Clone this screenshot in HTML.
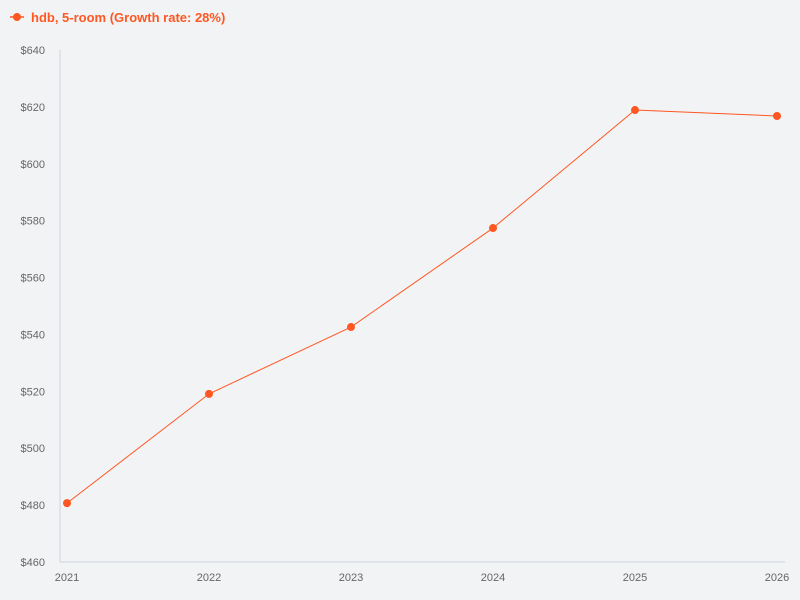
<!DOCTYPE html>
<html><head><meta charset="utf-8"><style>
html,body{margin:0;padding:0;background:#f2f3f5;}
svg{display:block;font-family:"Liberation Sans",sans-serif;}
</style></head><body>
<svg id="chart" width="800" height="600">
<rect width="800" height="600" fill="#f2f3f5"/>
<g>
<line x1="10" y1="17" x2="24" y2="17" stroke="#ff5722" stroke-width="1.5"/>
<circle cx="17" cy="17" r="4" fill="#ff5722"/>
<text x="31" y="22" fill="#ff5722" font-size="13" font-weight="bold">hdb, 5-room (Growth rate: 28%)</text>
</g>
<g id="yaxis"></g>
<g id="xaxis"></g>
<g id="series"></g>
</svg>
<script>
const categories = ["2021","2022","2023","2024","2025","2026"];
const values = [480.7, 519.1, 542.6, 577.4, 618.9, 616.8];
const yTicks = [460,480,500,520,540,560,580,600,620,640];
const ns="http://www.w3.org/2000/svg";
const x0=67,x1=777,yTop=50,yBot=562,vMin=460,vMax=640;
const xs=i=>x0+(x1-x0)*i/(categories.length-1);
const ys=v=>yBot-(v-vMin)/(vMax-vMin)*(yBot-yTop);
function mk(t,a,p){const e=document.createElementNS(ns,t);for(const k in a)e.setAttribute(k,a[k]);p.appendChild(e);return e;}
const ya=document.getElementById('yaxis'),xa=document.getElementById('xaxis'),se=document.getElementById('series');
const yl=mk('line',{x1:60,y1:yTop,x2:60,y2:yBot,stroke:'#ccd6e0'},ya);


const xl=mk('line',{x1:60,y1:yBot,x2:785,y2:yBot,stroke:'#ccd6e0'},xa);


yTicks.forEach(v=>{
 const t=mk('text',{x:45,y:ys(v)+4,'text-anchor':'end','font-size':11,fill:'#666'},ya);
 t.textContent='$'+v;
 
 
});
categories.forEach((c,i)=>{
 const t=mk('text',{x:xs(i),y:581,'text-anchor':'middle','font-size':11,fill:'#666'},xa);
 t.textContent=c;
 
 
});
const pl=mk('polyline',{points:values.map((v,i)=>xs(i)+','+ys(v)).join(' '),fill:'none',stroke:'#ff5722','stroke-width':1},se);


values.forEach((v,i)=>{
 const c=mk('circle',{cx:xs(i),cy:ys(v),r:4,fill:'#ff5722'},se);
 
 
});
</script>
</body></html>
